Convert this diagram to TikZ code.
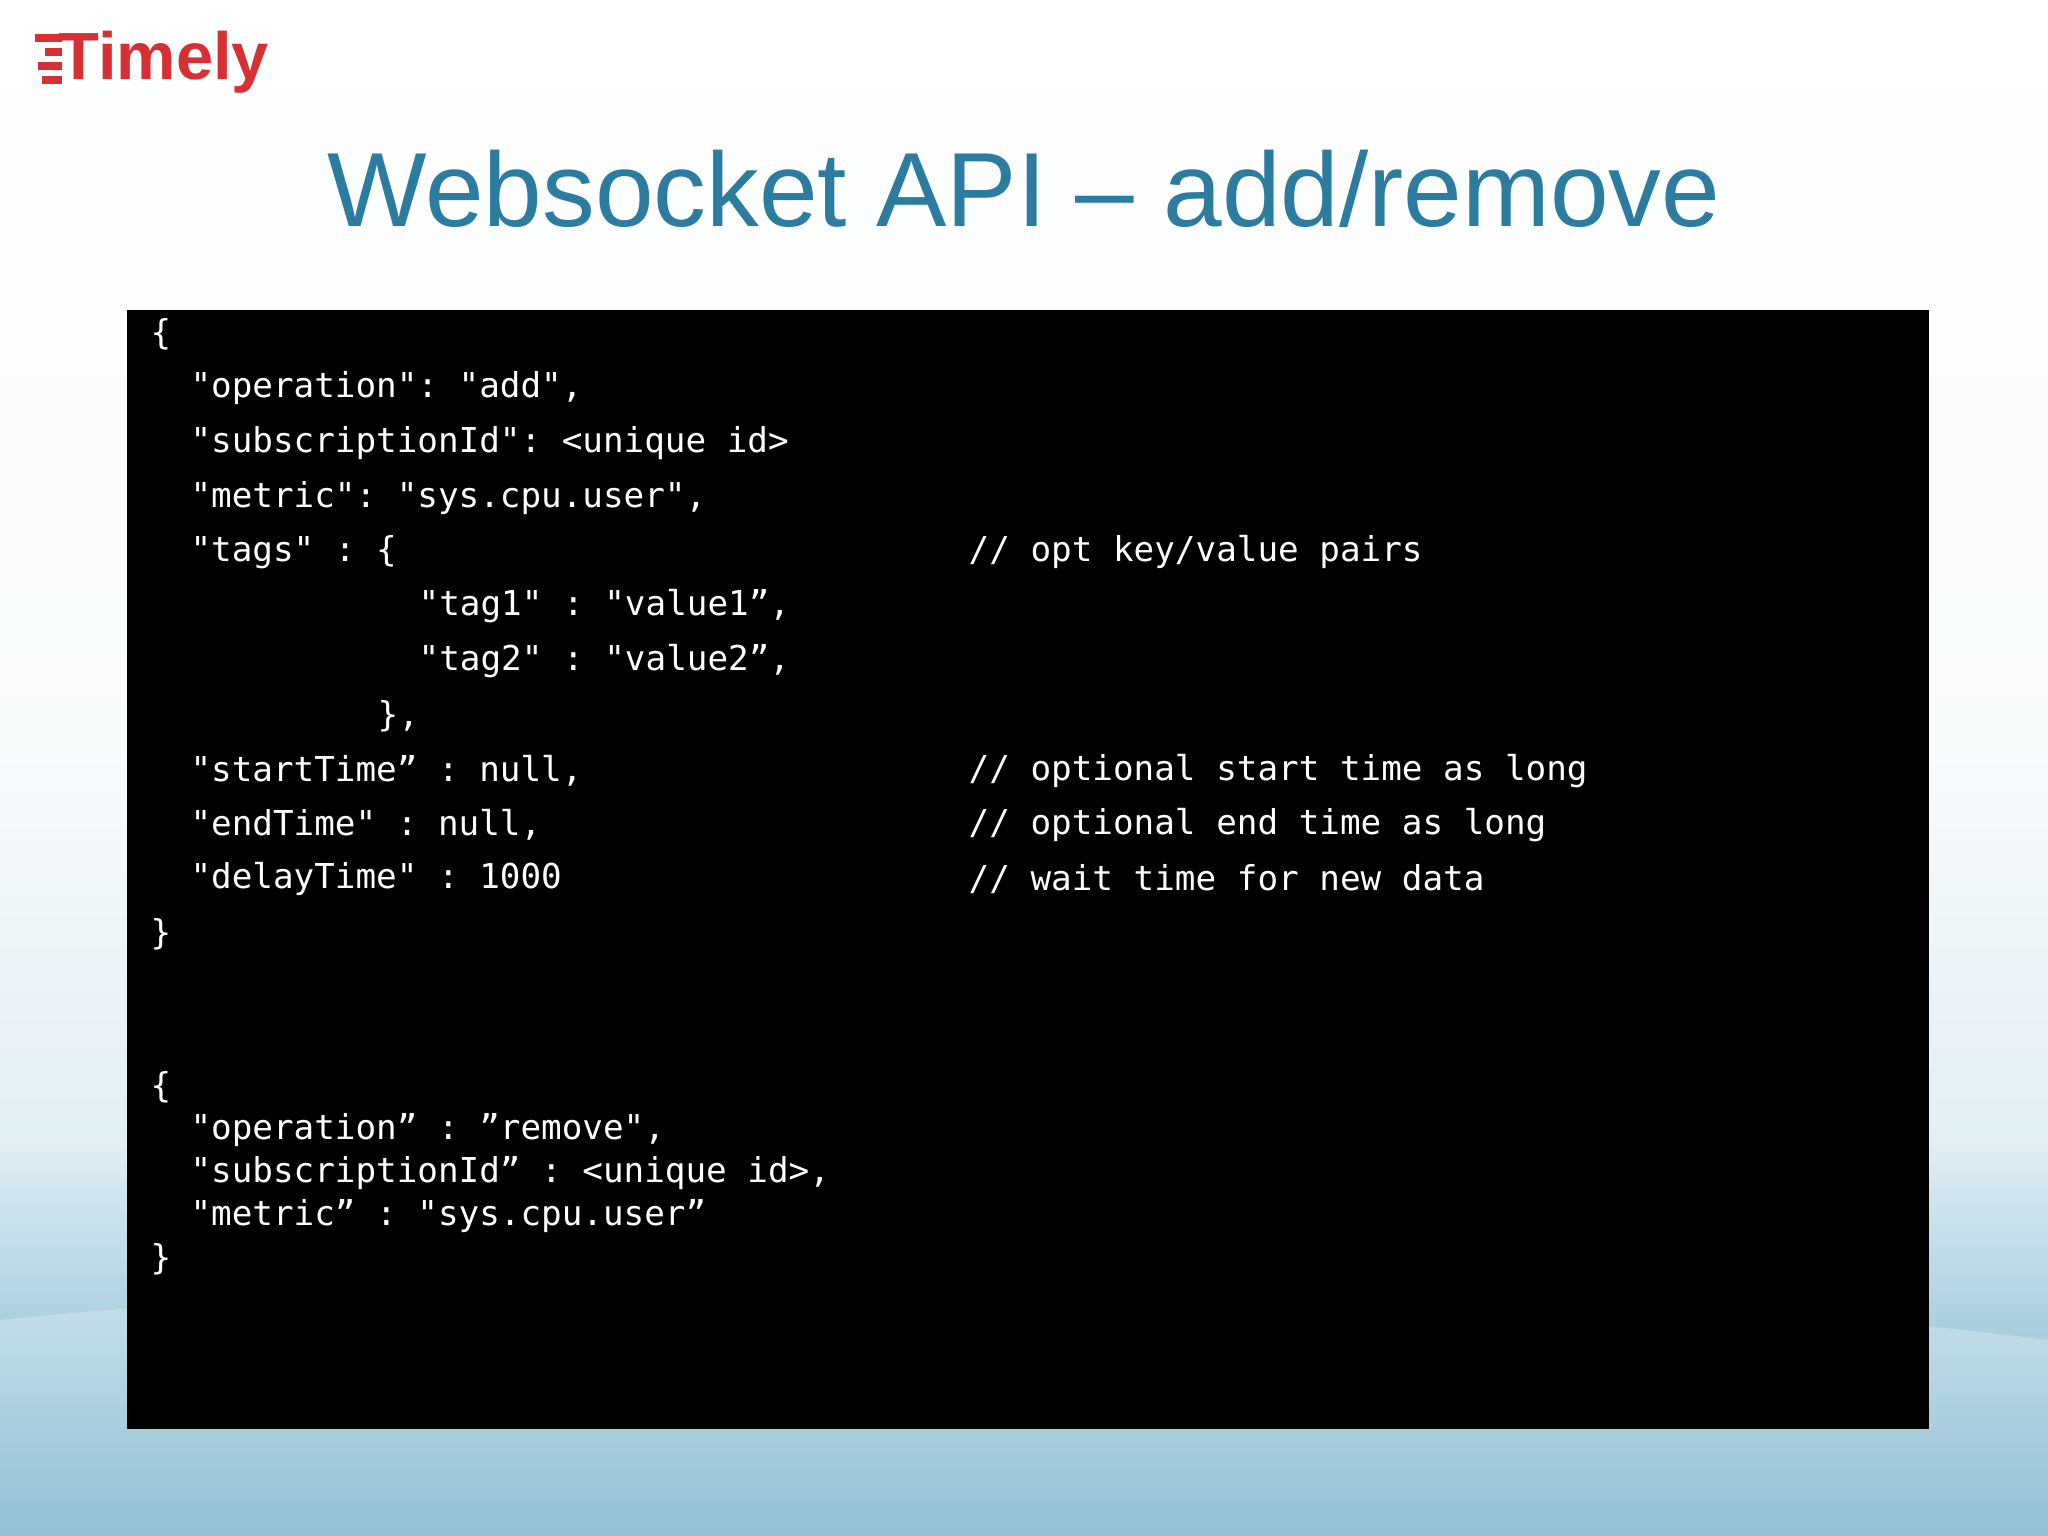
\documentclass[tikz,border=0pt]{standalone}
\usepackage{fontspec}
\setmainfont{Liberation Sans}
\setmonofont{DejaVu Sans Mono}
\definecolor{logored}{RGB}{214,48,52}
\definecolor{titleblue}{RGB}{44,124,160}
\definecolor{bgbot}{RGB}{110,172,196}
\definecolor{bgmid}{RGB}{225,238,244}
\definecolor{bgtop}{RGB}{248,251,252}
\begin{document}
\begin{tikzpicture}[x=1cm,y=1cm,
  code/.style={anchor=west,inner sep=0pt,text=white,font=\ttfamily\fontsize{9.75}{12}\selectfont},
  ttl/.style={text=titleblue,font=\fontsize{30}{34}\selectfont},
  logo/.style={text=logored,font=\bfseries\fontsize{19}{22}\selectfont,inner sep=0pt,anchor=west}]
\useasboundingbox (0,0) rectangle (20.48,-15.36);
\shade[top color=white,bottom color=bgtop] (0,0) rectangle (20.48,-7.5);
\shade[top color=bgtop,bottom color=bgbot,middle color=bgmid] (0,-7.5) rectangle (20.48,-15.36);
\fill[white,opacity=0.25] (0,-13.2) .. controls (6,-12.6) and (14,-12.6) .. (20.48,-13.4) -- (20.48,-15.36) -- (0,-15.36) -- cycle;
% logo
\node[logo] (lg) at (0.58,-0.62) {Timely};
\foreach \yy/\xs in {-0.38/0.35,-0.52/0.45,-0.66/0.38,-0.8/0.42}
  \draw[logored,line width=2pt] (\xs,\yy) -- (0.62,\yy);
% title
\node[ttl] (title) at (10.24,-1.89) {Websocket API – add/remove};
% code box
\fill[black] (1.27,-3.10) rectangle (19.29,-14.29);
\def\c#1{1.50+#1*0.199}
\node[code] (l1) at ({\c{0}},-3.34) {\{};
\node[code] (l2) at ({\c{2}},-3.88) {"operation": "add",};
\node[code] (l3) at ({\c{2}},-4.43) {"subscriptionId": <unique id>};
\node[code] (l4) at ({\c{2}},-4.98) {"metric": "sys.cpu.user",};
\node[code] (l5) at ({\c{2}},-5.52) {"tags" : \{};
\node[code] (c5) at (9.68,-5.52) {// opt key/value pairs};
\node[code] (l6) at (4.18,-6.06) {"tag1" : "value1”,};
\node[code] (l7) at (4.18,-6.61) {"tag2" : "value2”,};
\node[code] (l8) at (3.77,-7.16) {\},};
\node[code] (l9) at ({\c{2}},-7.71) {"startTime” : null,};
\node[code] (c9) at (9.68,-7.71) {// optional start time as long};
\node[code] (l10) at ({\c{2}},-8.25) {"endTime" : null,};
\node[code] (c10) at (9.68,-8.25) {// optional end time as long};
\node[code] (l11) at ({\c{2}},-8.79) {"delayTime" : 1000};
\node[code] (c11) at (9.68,-8.79) {// wait time for new data};
\node[code] (l12) at ({\c{0}},-9.34) {\}};
\node[code] (m1) at ({\c{0}},-10.87) {\{};
\node[code] (m2) at ({\c{2}},-11.30) {"operation” : ”remove",};
\node[code] (m3) at ({\c{2}},-11.73) {"subscriptionId” : <unique id>,};
\node[code] (m4) at ({\c{2}},-12.16) {"metric” : "sys.cpu.user”};
\node[code] (m5) at ({\c{0}},-12.59) {\}};
\end{tikzpicture}
\end{document}
